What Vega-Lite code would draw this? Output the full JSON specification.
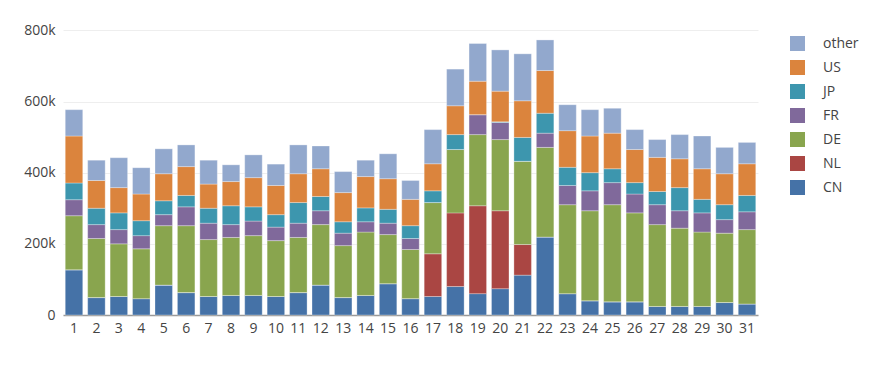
{
  "$schema": "https://vega.github.io/schema/vega-lite/v6.json",
  "width": 695,
  "height": 290,
  "autosize": {"type": "none"},
  "padding": {"left": 63, "top": 25, "right": 125, "bottom": 62},
  "background": "white",
  "config": {
    "view": {"stroke": null},
    "font": "Open Sans",
    "axis": {"labelFont": "Open Sans", "labelColor": "#444", "labelFontSize": 14, "title": null}
  },
  "data": {
    "values": [
      {"day": 1, "CN": 127000, "NL": 0, "DE": 152000, "FR": 45000, "JP": 47000, "US": 132000, "other": 74000},
      {"day": 2, "CN": 49000, "NL": 0, "DE": 166000, "FR": 39000, "JP": 46000, "US": 78000, "other": 57000},
      {"day": 3, "CN": 52000, "NL": 0, "DE": 148000, "FR": 40000, "JP": 47000, "US": 71000, "other": 84000},
      {"day": 4, "CN": 46000, "NL": 0, "DE": 140000, "FR": 37000, "JP": 42000, "US": 75000, "other": 74000},
      {"day": 5, "CN": 84000, "NL": 0, "DE": 167000, "FR": 31000, "JP": 39000, "US": 76000, "other": 70000},
      {"day": 6, "CN": 63000, "NL": 0, "DE": 188000, "FR": 53000, "JP": 32000, "US": 81000, "other": 61000},
      {"day": 7, "CN": 52000, "NL": 0, "DE": 160000, "FR": 46000, "JP": 42000, "US": 68000, "other": 67000},
      {"day": 8, "CN": 55000, "NL": 0, "DE": 163000, "FR": 36000, "JP": 53000, "US": 68000, "other": 47000},
      {"day": 9, "CN": 55000, "NL": 0, "DE": 168000, "FR": 41000, "JP": 40000, "US": 82000, "other": 64000},
      {"day": 10, "CN": 52000, "NL": 0, "DE": 157000, "FR": 38000, "JP": 35000, "US": 82000, "other": 60000},
      {"day": 11, "CN": 63000, "NL": 0, "DE": 155000, "FR": 40000, "JP": 58000, "US": 81000, "other": 81000},
      {"day": 12, "CN": 84000, "NL": 0, "DE": 170000, "FR": 39000, "JP": 40000, "US": 78000, "other": 64000},
      {"day": 13, "CN": 49000, "NL": 0, "DE": 146000, "FR": 35000, "JP": 32000, "US": 82000, "other": 59000},
      {"day": 14, "CN": 55000, "NL": 0, "DE": 178000, "FR": 29000, "JP": 39000, "US": 88000, "other": 46000},
      {"day": 15, "CN": 88000, "NL": 0, "DE": 138000, "FR": 32000, "JP": 39000, "US": 86000, "other": 70000},
      {"day": 16, "CN": 46000, "NL": 0, "DE": 138000, "FR": 31000, "JP": 36000, "US": 74000, "other": 53000},
      {"day": 17, "CN": 52000, "NL": 120000, "DE": 144000, "FR": 0, "JP": 33000, "US": 76000, "other": 96000},
      {"day": 18, "CN": 80000, "NL": 207000, "DE": 178000, "FR": 0, "JP": 42000, "US": 81000, "other": 103000},
      {"day": 19, "CN": 60000, "NL": 247000, "DE": 200000, "FR": 56000, "JP": 0, "US": 94000, "other": 106000},
      {"day": 20, "CN": 74000, "NL": 219000, "DE": 200000, "FR": 48000, "JP": 2000, "US": 86000, "other": 116000},
      {"day": 21, "CN": 112000, "NL": 86000, "DE": 234000, "FR": 0, "JP": 67000, "US": 103000, "other": 132000},
      {"day": 22, "CN": 219000, "NL": 0, "DE": 252000, "FR": 40000, "JP": 56000, "US": 120000, "other": 86000},
      {"day": 23, "CN": 60000, "NL": 0, "DE": 250000, "FR": 54000, "JP": 51000, "US": 103000, "other": 73000},
      {"day": 24, "CN": 40000, "NL": 0, "DE": 253000, "FR": 56000, "JP": 51000, "US": 103000, "other": 74000},
      {"day": 25, "CN": 37000, "NL": 0, "DE": 273000, "FR": 62000, "JP": 39000, "US": 100000, "other": 70000},
      {"day": 26, "CN": 37000, "NL": 0, "DE": 250000, "FR": 53000, "JP": 32000, "US": 93000, "other": 56000},
      {"day": 27, "CN": 24000, "NL": 0, "DE": 230000, "FR": 56000, "JP": 37000, "US": 96000, "other": 50000},
      {"day": 28, "CN": 24000, "NL": 0, "DE": 220000, "FR": 49000, "JP": 65000, "US": 81000, "other": 68000},
      {"day": 29, "CN": 24000, "NL": 0, "DE": 209000, "FR": 54000, "JP": 38000, "US": 86000, "other": 92000},
      {"day": 30, "CN": 35000, "NL": 0, "DE": 195000, "FR": 38000, "JP": 42000, "US": 87000, "other": 74000},
      {"day": 31, "CN": 31000, "NL": 0, "DE": 209000, "FR": 50000, "JP": 46000, "US": 89000, "other": 60000}
    ]
  },
  "transform": [
    {"fold": ["CN", "NL", "DE", "FR", "JP", "US", "other"], "as": ["country", "value"]},
    {"calculate": "indexof(['CN','NL','DE','FR','JP','US','other'], datum.country)", "as": "stackOrder"}
  ],
  "mark": {"type": "bar", "stroke": "white", "strokeWidth": 0.5, "strokeOpacity": 0.6},
  "encoding": {
    "x": {
      "field": "day",
      "type": "ordinal",
      "sort": "ascending",
      "scale": {"paddingInner": 0.22, "paddingOuter": 0.1},
      "axis": {"labelAngle": 0, "ticks": false, "labelPadding": 6, "domainColor": "#999", "domainWidth": 1.5, "grid": false}
    },
    "y": {
      "field": "value",
      "type": "quantitative",
      "stack": "zero",
      "scale": {"domain": [0, 815000], "nice": false},
      "axis": {"values": [0, 200000, 400000, 600000, 800000], "labelExpr": "datum.value == 0 ? '0' : format(datum.value, '~s')", "domain": false, "ticks": false, "labelPadding": 8, "gridColor": "#eeeeee", "gridWidth": 1}
    },
    "color": {
      "field": "country",
      "type": "nominal",
      "scale": {
        "domain": ["other", "US", "JP", "FR", "DE", "NL", "CN"],
        "range": ["#92A8CD", "#DB843D", "#3D96AE", "#80699B", "#89A54E", "#AA4643", "#4572A7"]
      },
      "legend": {
        "title": null,
        "orient": "none",
        "legendX": 727,
        "legendY": 11,
        "symbolType": "square",
        "symbolSize": 225,
        "symbolStrokeWidth": 0,
        "rowPadding": 9,
        "labelFont": "Open Sans",
        "labelFontSize": 14,
        "labelColor": "#444",
        "labelOffset": 18
      }
    },
    "order": {"field": "stackOrder", "type": "quantitative", "sort": "ascending"}
  }
}
